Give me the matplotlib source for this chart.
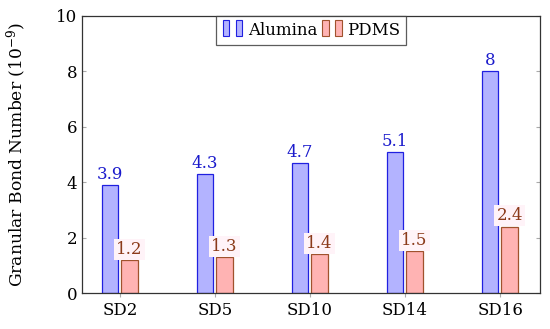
import matplotlib.pyplot as plt
import numpy as np
from matplotlib.legend_handler import HandlerBase
from matplotlib.patches import Rectangle

categories = ['SD2', 'SD5', 'SD10', 'SD14', 'SD16']
alumina = [3.9, 4.3, 4.7, 5.1, 8]
pdms = [1.2, 1.3, 1.4, 1.5, 2.4]
alumina_labels = ['3.9', '4.3', '4.7', '5.1', '8']
pdms_labels = ['1.2', '1.3', '1.4', '1.5', '2.4']

plt.rcParams['font.family'] = ['DejaVu Serif']
plt.rcParams['mathtext.fontset'] = 'dejavuserif'

blue_edge = '#2020e0'
blue_fill = '#b3b3ff'
red_edge = '#a0522d'
red_fill = '#ffb3b3'

fig = plt.figure(figsize=(5.5, 3.29), dpi=100)
ax = fig.add_axes([82 / 550, 1 - 293 / 329, (540 - 82) / 550, (293 - 16) / 329])

x = np.arange(len(categories))
w = 0.175
b1 = ax.bar(x - 0.105, alumina, w, color=blue_fill, edgecolor=blue_edge, linewidth=0.9)
b2 = ax.bar(x + 0.1, pdms, w, color=red_fill, edgecolor=red_edge, linewidth=0.9)

for xi, v, s in zip(x, alumina, alumina_labels):
    ax.text(xi - 0.105, v + 0.08, s, ha='center', va='bottom', color='#1a1acc', fontsize=12)
for xi, v, s in zip(x, pdms, pdms_labels):
    ax.text(xi + 0.1, v + 0.08, s, ha='center', va='bottom', color='#8b3a1a', fontsize=12,
            bbox=dict(facecolor='#fff3f8', edgecolor='none', pad=1.5))

ax.set_xlim(-0.4, 4.42)
ax.set_ylim(0, 10)
ax.set_xticks(x)
ax.set_xticklabels(categories)
ax.set_yticks([0, 2, 4, 6, 8, 10])
ax.tick_params(axis='both', direction='in', length=3, color='#aaaaaa', labelsize=12)
ax.tick_params(axis='x', direction='out', length=3)
ax.tick_params(axis='y', right=True)
ax.tick_params(axis='x', top=False)
for s in ax.spines.values():
    s.set_color('#333333')
    s.set_linewidth(0.9)
ax.set_ylabel('Granular Bond Number (10$^{-9}$)', fontsize=12.3)
ax.yaxis.set_label_coords(-0.115, 0.5)


class TwoBars(HandlerBase):
    def create_artists(self, legend, orig, xd, yd, width, height, fontsize, trans):
        fc = orig.get_facecolor()
        ec = orig.get_edgecolor()
        arts = []
        for dx in (0.0, 0.6):
            r = Rectangle((xd + dx * width + 1, yd - 1), width * 0.3, height + 3,
                          facecolor=fc, edgecolor=ec, lw=0.8, transform=trans)
            arts.append(r)
        return arts


leg = ax.legend([b1[0], b2[0]], ['Alumina', 'PDMS'], loc='upper center', ncol=2,
                bbox_to_anchor=(0.5, 1.0), handler_map={Rectangle: TwoBars()},
                fontsize=12, frameon=True, fancybox=False, handlelength=1.3,
                handletextpad=0.3, columnspacing=0.2, borderpad=0.35, borderaxespad=0)
leg.get_frame().set_edgecolor('#333333')
leg.get_frame().set_linewidth(0.9)

fig.savefig('out.png')
